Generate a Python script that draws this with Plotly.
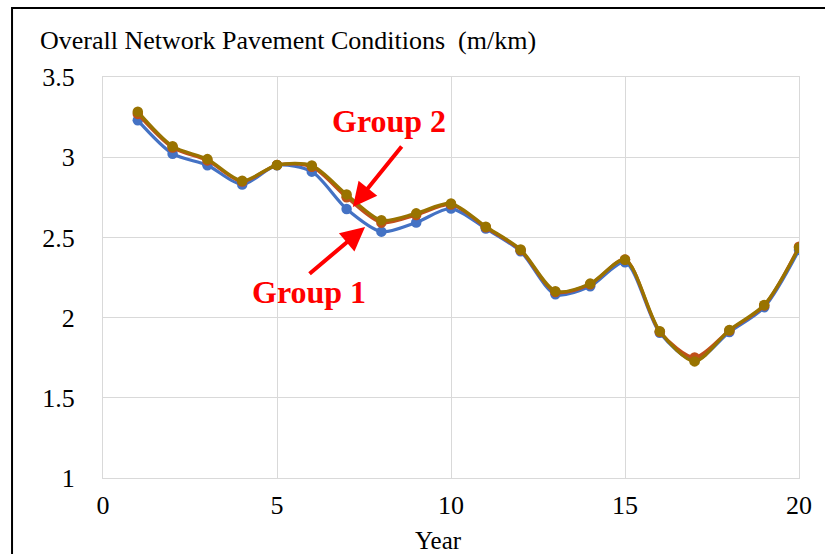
import plotly.graph_objects as go

# Overall network pavement condition (IRI, m/km) by analysis year
years = list(range(1, 21))
group1 = [3.23, 3.022, 2.95, 2.83, 2.95, 2.91, 2.677, 2.536, 2.593, 2.68,
          2.555, 2.413, 2.145, 2.195, 2.345, 1.905, 1.733, 1.91, 2.065, 2.422]
group2a = [3.27, 3.06, 2.98, 2.848, 2.951, 2.94, 2.75, 2.592, 2.64, 2.705,
           2.563, 2.42, 2.16, 2.208, 2.362, 1.912, 1.752, 1.92, 2.075, 2.442]
group2b = [3.284, 3.068, 2.988, 2.853, 2.951, 2.948, 2.768, 2.607, 2.65, 2.711,
           2.567, 2.425, 2.165, 2.212, 2.36, 1.915, 1.727, 1.923, 2.079, 2.436]

x_ticks = [0, 5, 10, 15, 20]
y_ticks = [1, 1.5, 2, 2.5, 3, 3.5]
y_tick_text = ["1", "1.5", "2", "2.5", "3", "3.5"]

FONT = "Liberation Serif, Times New Roman, serif"

series = [
    (group1, "#4472C4"),
    (group2a, "#C0501A"),
    (group2b, "#997300"),
]

fig = go.Figure()
for vals, col in series:
    fig.add_trace(go.Scatter(
        x=years, y=vals, mode="lines+markers",
        line=dict(color=col, width=3.2, shape="spline", smoothing=0.8),
        marker=dict(color=col, size=10.5),
        showlegend=False, hoverinfo="x+y",
    ))

fig.update_layout(
    width=825, height=554,
    margin=dict(l=103, r=26, t=77, b=76),
    paper_bgcolor="white", plot_bgcolor="white",
    font=dict(family=FONT, color="black", size=25),
    xaxis=dict(
        range=[0, 20], tickvals=x_ticks, showgrid=True, gridcolor="#D9D9D9",
        gridwidth=1, zeroline=False, showline=True, linecolor="#D9D9D9",
        linewidth=1, mirror=True, ticks="outside", ticklen=4,
        tickcolor="rgba(0,0,0,0)", automargin=False,
        tickfont=dict(family=FONT, size=26),
    ),
    yaxis=dict(
        range=[1, 3.5], tickvals=y_ticks, ticktext=y_tick_text,
        showgrid=True, gridcolor="#D9D9D9", gridwidth=1, zeroline=False,
        showline=True, linecolor="#D9D9D9", linewidth=1, mirror=True,
        ticks="outside", ticklen=22, tickcolor="rgba(0,0,0,0)",
        automargin=False, tickfont=dict(family=FONT, size=26),
    ),
)

# Outer chart frame (extends past the right and bottom edges)
fig.add_shape(type="rect", xref="paper", yref="paper",
              x0=-0.1307, x1=1.2, y0=-0.4, y1=1.172,
              line=dict(color="black", width=2), layer="above")

# Axis captions
fig.add_annotation(text="Overall Network Pavement Conditions&nbsp;&nbsp;(m/km)",
                   xref="paper", yref="paper", x=-0.0935, y=1.0898,
                   xanchor="left", yanchor="middle", showarrow=False,
                   font=dict(family=FONT, size=26, color="black"))
fig.add_annotation(text="Year", xref="paper", yref="paper", x=0.4825,
                   y=-0.157, xanchor="center", yanchor="middle",
                   showarrow=False, font=dict(family=FONT, size=25, color="black"))

RED = "#FF0000"
# Group labels with arrows
fig.add_annotation(x=7.18, y=2.69, ax=50, ay=-62, text="", showarrow=True,
                   arrowhead=2, arrowsize=1.2, arrowwidth=4, arrowcolor=RED)
fig.add_annotation(x=7.53, y=2.565, ax=-57, ay=48, text="", showarrow=True,
                   arrowhead=2, arrowsize=1.2, arrowwidth=4, arrowcolor=RED)
fig.add_annotation(x=8.22, y=3.226, text="<b>Group 2</b>", showarrow=False,
                   font=dict(family=FONT, size=32, color=RED))
fig.add_annotation(x=5.92, y=2.16, text="<b>Group 1</b>", showarrow=False,
                   font=dict(family=FONT, size=32, color=RED))

fig.write_html("out.html")
